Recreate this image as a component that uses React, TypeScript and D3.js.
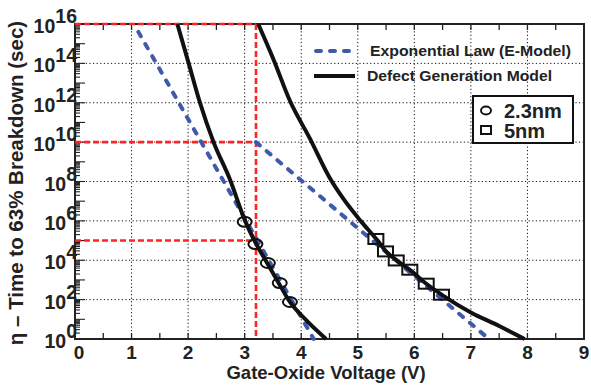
import React from "react";
import * as d3 from "d3";

// ---- data (voltage V, log10 of time in sec) ----
const xTickValues = [0, 1, 2, 3, 4, 5, 6, 7, 8, 9];
const yExponents = [0, 2, 4, 6, 8, 10, 12, 14, 16];
const xGridValues = [1, 2, 3, 4, 5, 6, 7, 8];
const yGridExponents = [2, 4, 6, 8, 10, 12, 14];

const eModel23V = [1.12, 4.22];
const eModel23T = [15.6, 0];
const eModel5V = [3.2, 7.32];
const eModel5T = [10, 0];

const dgm23V = [1.81, 2.01, 2.21, 2.45, 2.74, 3.0, 3.2, 3.4, 3.6, 3.8, 4.1, 4.44];
const dgm23T = [16, 14, 12, 10, 8.1, 6.05, 4.85, 3.85, 2.85, 1.88, 0.92, 0];

const dgm5V = [3.24, 3.51, 3.8, 4.15, 4.5, 4.75, 5.05, 5.35, 5.5, 5.7, 5.95, 6.2, 6.5, 7.0, 7.5, 7.95];
const dgm5T = [16, 14.2, 12.1, 10.2, 8.2, 7.1, 6.0, 5.0, 4.45, 3.97, 3.45, 2.83, 2.22, 1.35, 0.66, 0];

const circV = [3.0, 3.19, 3.41, 3.62, 3.8];
const circT = [5.95, 4.82, 3.86, 2.84, 1.88];
const sqV = [5.32, 5.49, 5.68, 5.92, 6.21, 6.48];
const sqT = [5.08, 4.45, 3.99, 3.52, 2.81, 2.25];

const refV = 3.2;
const refT = [16, 10, 5];

const legendLines = ["Exponential Law (E-Model)", "Defect Generation Model"];
const legendSymbols = ["2.3nm", "5nm"];
const xTitle = "Gate-Oxide Voltage (V)";
const yTitle = "η – Time to 63% Breakdown (sec)";

const W = 591;
const H = 387;
const FONT = "'Liberation Sans', Arial, Helvetica, sans-serif";
const BLUE = "#3f5aa8";
const RED = "#ff2424";

export default function App() {
  const x = d3.scaleLinear().domain([0, 9]).range([75, 584]);
  const y = d3.scaleLog().domain([1, 1e16]).range([339, 24]);
  const yy = (e: number) => y(Math.pow(10, e));

  const pairs = (vs: number[], ts: number[]) => vs.map((v, i) => [v, ts[i]] as [number, number]);
  const line = d3
    .line<[number, number]>()
    .x((d) => x(d[0]))
    .y((d) => yy(d[1]))
    .curve(d3.curveMonotoneX);
  const straight = d3
    .line<[number, number]>()
    .x((d) => x(d[0]))
    .y((d) => yy(d[1]));

  const [x0, x1] = x.range();
  const [yb, yt] = y.range();

  // y minor ticks
  const yTicks: { v: number; major: boolean }[] = [];
  for (let e = 0; e < 16; e++) {
    for (let k = 1; k < 10; k++) yTicks.push({ v: k * Math.pow(10, e), major: k === 1 });
  }
  yTicks.push({ v: 1e16, major: true });

  const halfTicks = d3.range(0.5, 9, 0.5);

  return (
    <svg width={W} height={H} style={{ position: "absolute", left: 0, top: 0, background: "#fff" }} fontFamily={FONT}>
      {/* grid */}
      {xGridValues.map((v) => (
        <line key={"gx" + v} x1={x(v)} x2={x(v)} y1={yt} y2={yb} stroke="#111" strokeWidth={1} strokeDasharray="1.2,2.4" />
      ))}
      {yGridExponents.map((e) => (
        <line key={"gy" + e} x1={x0} x2={x1} y1={yy(e)} y2={yy(e)} stroke="#111" strokeWidth={1} strokeDasharray="1.2,2.4" />
      ))}

      {/* ticks */}
      {halfTicks.map((v) => (
        <g key={"tx" + v}>
          <line x1={x(v)} x2={x(v)} y1={yb} y2={yb - 6} stroke="#222" strokeWidth={1.3} />
          <line x1={x(v)} x2={x(v)} y1={yt} y2={yt + 6} stroke="#222" strokeWidth={1.3} />
        </g>
      ))}
      {yTicks.map((t, i) => (
        <line key={"ty" + i} x1={x0} x2={x0 + (t.major ? 10 : 5)} y1={y(t.v)} y2={y(t.v)} stroke="#222" strokeWidth={1.1} />
      ))}

      {/* frame */}
      <rect x={x0} y={yt} width={x1 - x0} height={yb - yt} fill="none" stroke="#222" strokeWidth={2} />

      {/* red reference lines */}
      <line x1={x(refV)} x2={x(refV)} y1={yt} y2={yb} stroke={RED} strokeWidth={2.6} strokeDasharray="6,3" />
      {refT.map((e) => (
        <line key={"r" + e} x1={x0} x2={x(refV)} y1={yy(e)} y2={yy(e)} stroke={RED} strokeWidth={2.6} strokeDasharray="6,3" />
      ))}

      {/* E-model dashed lines */}
      <path d={straight(pairs(eModel23V, eModel23T)) || ""} fill="none" stroke={BLUE} strokeWidth={4} strokeDasharray="5,9" strokeLinecap="round" />
      <path d={straight(pairs(eModel5V, eModel5T)) || ""} fill="none" stroke={BLUE} strokeWidth={4} strokeDasharray="5,9" strokeLinecap="round" />

      {/* defect generation model */}
      <path d={line(pairs(dgm23V, dgm23T)) || ""} fill="none" stroke="#111" strokeWidth={4} />
      <path d={line(pairs(dgm5V, dgm5T)) || ""} fill="none" stroke="#111" strokeWidth={4} />

      {/* markers */}
      {circV.map((v, i) => (
        <ellipse key={"c" + i} cx={x(v)} cy={yy(circT[i])} rx={7} ry={5} fill="none" stroke="#111" strokeWidth={2} />
      ))}
      {sqV.map((v, i) => (
        <rect key={"s" + i} x={x(v) - 7.5} y={yy(sqT[i]) - 5} width={15} height={10} fill="none" stroke="#111" strokeWidth={2} />
      ))}

      {/* x tick labels */}
      {xTickValues.map((v) => (
        <text key={"xl" + v} x={x(v) + (v === 0 ? 4 : 0)} y={358.5} textAnchor="middle" fontSize={19} fontWeight="bold" fill="#222">
          {v}
        </text>
      ))}
      {/* y tick labels */}
      {yExponents.map((e) => (
        <text key={"yl" + e} x={77} y={yy(e) + 9} textAnchor="end" fontSize={19.5} fontWeight="bold" fill="#222">
          <tspan>10</tspan>
          <tspan dy={-10}>{e}</tspan>
        </text>
      ))}

      {/* axis titles */}
      <text x={326} y={379} textAnchor="middle" fontSize={18.5} fontWeight="bold" fill="#222">
        {xTitle}
      </text>
      <text transform={`translate(22.5,183) rotate(-90)`} textAnchor="middle" fontSize={20.5} fontWeight="bold" fill="#222">
        {yTitle}
      </text>

      {/* legend: lines */}
      <line x1={316} x2={356} y1={51} y2={51} stroke={BLUE} strokeWidth={4} strokeDasharray="5,9" strokeLinecap="round" />
      <text x={370} y={56} fontSize={14.5} fontWeight="bold" fill="#222" textLength={201} lengthAdjust="spacingAndGlyphs">
        {legendLines[0]}
      </text>
      <line x1={314} x2={355} y1={76} y2={76} stroke="#111" strokeWidth={4} />
      <text x={367} y={80.5} fontSize={14.5} fontWeight="bold" fill="#222" textLength={185} lengthAdjust="spacingAndGlyphs">
        {legendLines[1]}
      </text>

      {/* legend: symbols */}
      <rect x={473} y={96} width={100} height={47} fill="#fff" stroke="#111" strokeWidth={2} />
      <ellipse cx={486} cy={110.5} rx={5} ry={4} fill="none" stroke="#111" strokeWidth={2} />
      <text x={504} y={117.5} fontSize={20} fontWeight="bold" fill="#222">
        {legendSymbols[0]}
      </text>
      <rect x={481} y={126} width={10} height={8} fill="none" stroke="#111" strokeWidth={2} />
      <text x={504} y={137.5} fontSize={20} fontWeight="bold" fill="#222">
        {legendSymbols[1]}
      </text>
    </svg>
  );
}
